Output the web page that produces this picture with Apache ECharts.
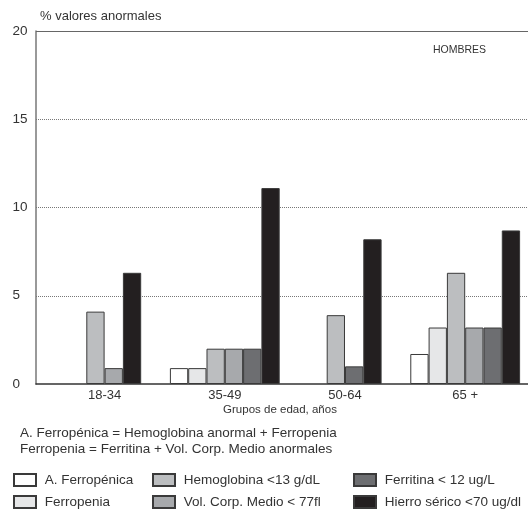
<!DOCTYPE html>
<html>
<head>
<meta charset="utf-8">
<script src="https://cdn.jsdelivr.net/npm/echarts@6/dist/echarts.min.js"></script>
<style>
html,body{margin:0;padding:0;background:#fff;}
#chart{width:528px;height:514px;}
</style>
</head>
<body>
<div id="chart"></div>
<script>
// ---- data ----
const categories = ['18-34', '35-49', '50-64', '65 +'];
const seriesNames = ['A. Ferropénica', 'Ferropenia', 'Hemoglobina <13 g/dL', 'Vol. Corp. Medio < 77fl', 'Ferritina < 12 ug/L', 'Hierro sérico <70 ug/dl'];
const aFerropenica = [null, 0.9, null, 1.7];
const ferropenia   = [null, 0.9, null, 3.2];
const hemoglobina  = [4.1, 2.0, 3.9, 6.3];
const volCorpMedio = [0.9, 2.0, null, 3.2];
const ferritina    = [null, 2.0, 1.0, 3.2];
const hierroSerico = [6.3, 11.1, 8.2, 8.7];
const yTicks = [0, 5, 10, 15, 20];

// ---- styles ----
const colors = ['#ffffff', '#e6e7e8', '#bcbec0', '#a7a9ac', '#6d6e71', '#231f20'];
const FONT = '"Liberation Sans", Arial, sans-serif';
const TXT = '#333';

const measures = [aFerropenica, ferropenia, hemoglobina, volCorpMedio, ferritina, hierroSerico];
// bars of each age group are packed side by side (missing measures are skipped)
const slots = [[], [], [], [], [], []];
categories.forEach((c, ci) => {
  const present = measures.map((m, mi) => (m[ci] != null ? mi : -1)).filter(i => i >= 0);
  const start = Math.ceil((6 - present.length) / 2);
  present.forEach((mi, k) => {
    slots[start + k].push({ value: [ci, measures[mi][ci]], itemStyle: { color: colors[mi] } });
  });
});

const series = slots.map((d, s) => ({
  type: 'bar', name: 'slot' + s, data: d, barWidth: 18.3, barGap: '0%',
  xAxisIndex: 0, yAxisIndex: 0, silent: true,
  itemStyle: { borderColor: '#3a3a3a', borderWidth: 1 }
}));
// solid top frame line at the axis maximum
series[0].markLine = {
  silent: true, symbol: 'none', label: { show: false },
  lineStyle: { type: 'solid', color: '#666', width: 1.2 },
  data: [{ yAxis: yTicks[yTicks.length - 1] }]
};
// legend-only series on hidden axes
seriesNames.forEach((n, mi) => {
  series.push({
    type: 'bar', name: n, data: [], xAxisIndex: 1, yAxisIndex: 1,
    itemStyle: { color: colors[mi], borderColor: '#3a3a3a', borderWidth: 1 }
  });
});

const legendLefts = [13, 152, 353];
const legends = [0, 1, 2].map(col => ({
  orient: 'vertical', left: legendLefts[col], top: 473, padding: 0,
  itemWidth: 22, itemHeight: 12, itemGap: 8, icon: 'rect', selectedMode: false,
  data: seriesNames.slice(col * 2, col * 2 + 2),
  formatter: n => ' ' + n,
  textStyle: { fontSize: 13.5, color: TXT, fontFamily: FONT, lineHeight: 13 }
}));

const chart = echarts.init(document.getElementById('chart'), null, { renderer: 'canvas' });
chart.setOption({
  animation: false,
  backgroundColor: '#fff',
  textStyle: { fontFamily: FONT },
  grid: [{ left: 36, top: 31, right: 0, height: 353, show: false }],
  legend: legends,
  xAxis: [
    {
      type: 'value', gridIndex: 0, min: -0.5707, max: 3.5225,
      axisLine: { show: true, onZero: false, lineStyle: { color: '#333', width: 1.5 } },
      axisTick: { show: false },
      splitLine: { show: false },
      axisLabel: {
        customValues: [0, 1, 2, 3],
        formatter: v => categories[Math.round(v)] || '',
        fontSize: 13, color: TXT, margin: 5, fontFamily: FONT
      }
    },
    { type: 'category', gridIndex: 0, show: false, data: categories }
  ],
  yAxis: [
    {
      type: 'value', gridIndex: 0, min: yTicks[0], max: yTicks[yTicks.length - 1], interval: 5,
      axisLine: { show: true, onZero: false, lineStyle: { color: '#777', width: 1.5 } },
      axisTick: { show: false },
      axisLabel: { align: 'left', margin: 23.5, fontSize: 13.5, color: TXT, fontFamily: FONT },
      splitLine: { show: true, showMinLine: false, showMaxLine: false, lineStyle: { type: 'dotted', color: '#777', width: 1 } }
    },
    { type: 'value', gridIndex: 0, show: false }
  ],
  series: series,
  graphic: [
    { type: 'text', left: 40, top: 10, style: { text: '% valores anormales', fontSize: 13, fill: TXT, fontFamily: FONT } },
    { type: 'text', left: 433, top: 45, style: { text: 'HOMBRES', fontSize: 10.5, fill: TXT, fontFamily: FONT } },
    { type: 'text', x: 280, y: 404, style: { text: 'Grupos de edad, años', fontSize: 11.5, fill: TXT, fontFamily: FONT, align: 'center' } },
    { type: 'text', left: 20, top: 426, style: { text: 'A. Ferropénica = Hemoglobina anormal + Ferropenia', fontSize: 13.5, fill: TXT, fontFamily: FONT } },
    { type: 'text', left: 20, top: 442, style: { text: 'Ferropenia = Ferritina + Vol. Corp. Medio anormales', fontSize: 13.5, fill: TXT, fontFamily: FONT } }
  ]
});
</script>
</body>
</html>
